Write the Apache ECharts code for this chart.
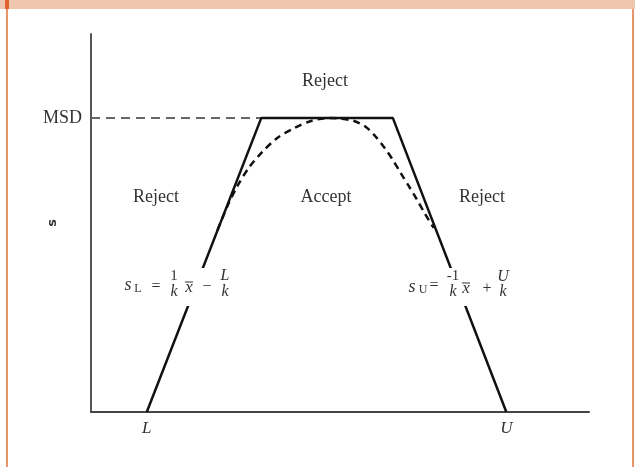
<!DOCTYPE html>
<html>
<head>
<meta charset="utf-8">
<script src="https://cdn.jsdelivr.net/npm/echarts@6/dist/echarts.min.js"></script>
<style>
  html, body { margin: 0; padding: 0; background: #fff; }
  #main { width: 635px; height: 467px; }
</style>
</head>
<body>
<div id="main"></div>
<script>
// tick labels on the axes
const xTickValues = [11.2, 83.4];
const xTickLabels = ['L', 'U'];
const yTickValues = [77.8];
const yTickLabels = ['MSD'];

// solid control limit (trapezoid)
const limitX = [11.2, 34.2, 60.6, 83.4];
const limitY = [0, 77.8, 77.8, 0];

// dashed MSD reference line
const msdX = [0, 34.2];
const msdY = [77.8, 77.8];

// dashed curve
const curveX = [25.4, 27.4, 29.4, 31.8, 34.4, 37.4, 40.8, 44.2, 47.8, 50.2, 52.8, 55.2, 57.2, 59.0, 60.6, 62.2, 63.8, 65.4, 67.0, 68.8];
const curveY = [48.1, 54.5, 59.8, 64.8, 68.8, 72.5, 75.1, 77.0, 77.8, 77.6, 77.0, 75.4, 72.8, 69.8, 66.7, 63.2, 59.8, 56.3, 52.6, 48.7];

const zip = (xs, ys) => xs.map((x, i) => [x, ys[i]]);

const serif = 'Liberation Serif';
const txtColor = '#333';

// small helper for graphic text
function t(text, x, y, size, italic) {
  return {
    type: 'text', x: x, y: y, z: 20,
    style: {
      text: text, fill: txtColor, fontSize: size || 18,
      fontFamily: serif, fontStyle: italic ? 'italic' : 'normal',
      align: 'center', verticalAlign: 'middle'
    }
  };
}
function bar(x1, x2, y) {
  return { type: 'line', z: 20, shape: { x1: x1, y1: y, x2: x2, y2: y }, style: { stroke: txtColor, lineWidth: 1 } };
}
function blank(x, y, w, h) {
  return { type: 'rect', z: 15, shape: { x: x, y: y, width: w, height: h }, style: { fill: '#fff' } };
}

const chart = echarts.init(document.getElementById('main'));

chart.setOption({
  backgroundColor: '#fff',
  animation: false,
  grid: { left: 91, right: 46, top: 34, bottom: 55 },
  xAxis: {
    type: 'value', min: 0, max: 100,
    splitLine: { show: false },
    axisTick: { show: false },
    axisLine: { lineStyle: { color: '#444', width: 2 } },
    axisLabel: {
      customValues: xTickValues,
      formatter: v => xTickLabels[xTickValues.indexOf(v)] || '',
      color: txtColor, fontFamily: serif, fontStyle: 'italic', fontSize: 17, margin: 8
    }
  },
  yAxis: {
    type: 'value', min: 0, max: 100,
    splitLine: { show: false },
    axisTick: { show: false },
    axisLine: { lineStyle: { color: '#555', width: 2 } },
    axisLabel: {
      customValues: yTickValues,
      formatter: v => yTickLabels[yTickValues.indexOf(v)] || '',
      color: txtColor, fontFamily: serif, fontSize: 18, margin: 9
    }
  },
  series: [
    {
      type: 'line', data: zip(msdX, msdY), symbol: 'none',
      lineStyle: { color: '#666', width: 2, type: [9, 6] }
    },
    {
      type: 'line', data: zip(limitX, limitY), symbol: 'none',
      lineStyle: { color: '#111', width: 2.5 }
    },
    {
      type: 'line', data: zip(curveX, curveY), symbol: 'none', smooth: 0.3,
      lineStyle: { color: '#111', width: 2.5, type: [7, 5] }
    }
  ],
  graphic: [
    // page frame
    { type: 'rect', z: 30, shape: { x: 0, y: 0, width: 635, height: 9 }, style: { fill: '#efc7ae' } },
    { type: 'rect', z: 31, shape: { x: 5, y: 0, width: 4, height: 9 }, style: { fill: '#e0642f' } },
    { type: 'rect', z: 30, shape: { x: 6, y: 9, width: 2, height: 458 }, style: { fill: '#e8956a' } },
    { type: 'rect', z: 30, shape: { x: 632, y: 9, width: 2, height: 458 }, style: { fill: '#e8956a' } },
    // y axis name
    {
      type: 'text', x: 53, y: 223, rotation: Math.PI / 2, z: 20,
      style: { text: 's', fill: txtColor, fontSize: 13, fontFamily: 'DejaVu Sans', fontWeight: 'bold', align: 'center', verticalAlign: 'middle' }
    },
    // region labels
    t('Reject', 325, 81),
    t('Reject', 156, 197),
    t('Accept', 326, 197),
    t('Reject', 482, 197),
    // left equation
    blank(118, 268, 122, 38),
    t('s', 128, 285, 18, true),
    t('L', 138, 289, 12),
    t('=', 156, 287, 16),
    t('1', 174, 276, 15),
    t('k', 174, 292, 16, true),
    t('x', 189, 288, 17, true),
    bar(185, 193, 282),
    t('\u2212', 207, 287, 16),
    t('L', 225, 276, 16, true),
    t('k', 225, 292, 16, true),
    // right equation
    blank(402, 268, 118, 38),
    t('s', 412, 287, 18, true),
    t('U', 423, 290, 12),
    t('=', 434, 286, 16),
    t('-1', 453, 276, 15),
    t('k', 453, 292, 16, true),
    t('x', 466, 289, 17, true),
    bar(462, 470, 283),
    t('+', 487, 289, 16),
    t('U', 503, 277, 16, true),
    t('k', 503, 292, 16, true)
  ]
});
</script>
</body>
</html>
